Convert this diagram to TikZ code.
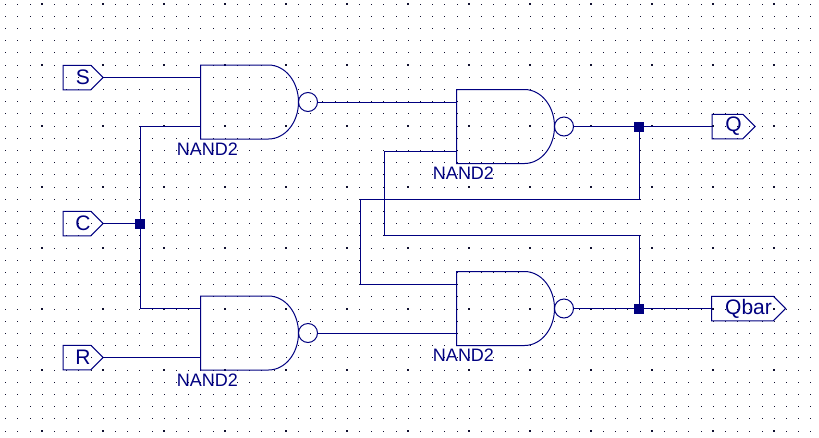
\documentclass[tikz,border=0pt]{standalone}
\usepackage{fontspec}
\setmainfont{Liberation Sans}
\usetikzlibrary{arrows.meta,positioning,shapes.symbols,calc}
\definecolor{schInk}{HTML}{000080}
\definecolor{schDot}{HTML}{101030}
\tikzset{
  sch/wire/.style={draw=schInk, line width=1pt},
  sch/label/.style={font=\fontsize{18}{20}\selectfont, text=schInk, inner sep=0pt},
  sch/port/.style={signal, signal to=east, signal from=nowhere, signal pointer angle=90,
    draw=schInk, line width=1pt, inner sep=0pt, minimum height=24.5pt,
    font=\fontsize{21}{23}\selectfont, text=schInk, execute at begin node=\hspace*{12pt}},
  sch/junction/.style={fill=schInk, inner sep=0pt, minimum size=10pt},
  sch/bubble/.style={circle, draw=schInk, line width=1pt, inner sep=0pt, minimum size=19pt},
  sch/nand/.pic={
    \draw[sch/wire] (0,0) -- (68,0) arc[start angle=-90, end angle=90, x radius=30, y radius=37]
      -- (0,74) -- cycle;
    \node[sch/bubble] (-bubble) at (107.5,37) {};
    \node[sch/label] (-name) at (7,84) {NAND2};
    \coordinate (-in1) at (0,12.5);
    \coordinate (-in2) at (0,61.5);
  },
}
\begin{document}
\begin{tikzpicture}[x=1pt, y=-1pt]
\useasboundingbox (0,0) rectangle (819,437);
% grid of the schematic sheet
\foreach \ix in {0,...,66} \foreach \iy in {0,...,35}
  \fill[schDot] ({5.7+12.2*\ix-0.5},{4+12.2*\iy-0.5}) rectangle +(1,1);
\foreach \ix in {0,...,12} \foreach \iy in {0,...,7}
  \fill[schDot] ({42.3+61*\ix-1},{4+61*\iy-1}) rectangle +(2,2);

\pic (gateS) at (200.5,65) {sch/nand};
\pic (gateQ) at (456.5,89.5) {sch/nand};
\pic (gateB) at (456.5,271.5) {sch/nand};
\pic (gateR) at (200.5,296) {sch/nand};

\node[sch/port, minimum width=40pt] (portS) at (77,77.5) {S};
\node[sch/port, minimum width=40pt] (portC) at (77,223.5) {C};
\node[sch/port, minimum width=40pt] (portR) at (77,357.5) {R};
\node[sch/port, minimum width=43pt] (portQ) at (727.5,126.5) {Q};
\node[sch/port, minimum width=74pt] (portBar) at (742.5,308.5) {Qbar};

\node[sch/junction] (dotC) at (140,223.5) {};
\node[sch/junction] (dotQ) at (639,126.5) {};
\node[sch/junction] (dotB) at (639,308.5) {};
\coordinate (turnA) at (360,199);
\coordinate (turnB) at (384,235);

\draw[sch/wire] (portS.east) -- (gateS-in1);
\draw[sch/wire] (portC.east) -- (dotC.center);
\draw[sch/wire] (portR.east) -- (gateR-in2);
\draw[sch/wire] (gateS-in2) -| (dotC.center);
\draw[sch/wire] (gateR-in1) -| (dotC.center);
\draw[sch/wire] (gateS-bubble.east) -- (gateQ-in1);
\draw[sch/wire] (gateR-bubble.east) -- (gateB-in2);
\draw[sch/wire] (gateQ-bubble.east) -- (portQ.west);
\draw[sch/wire] (gateB-bubble.east) -- (portBar.west);
\draw[sch/wire] (dotQ.center) |- (turnA) |- (gateB-in1);
\draw[sch/wire] (dotB.center) |- (turnB) |- (gateQ-in2);
\end{tikzpicture}
\end{document}
